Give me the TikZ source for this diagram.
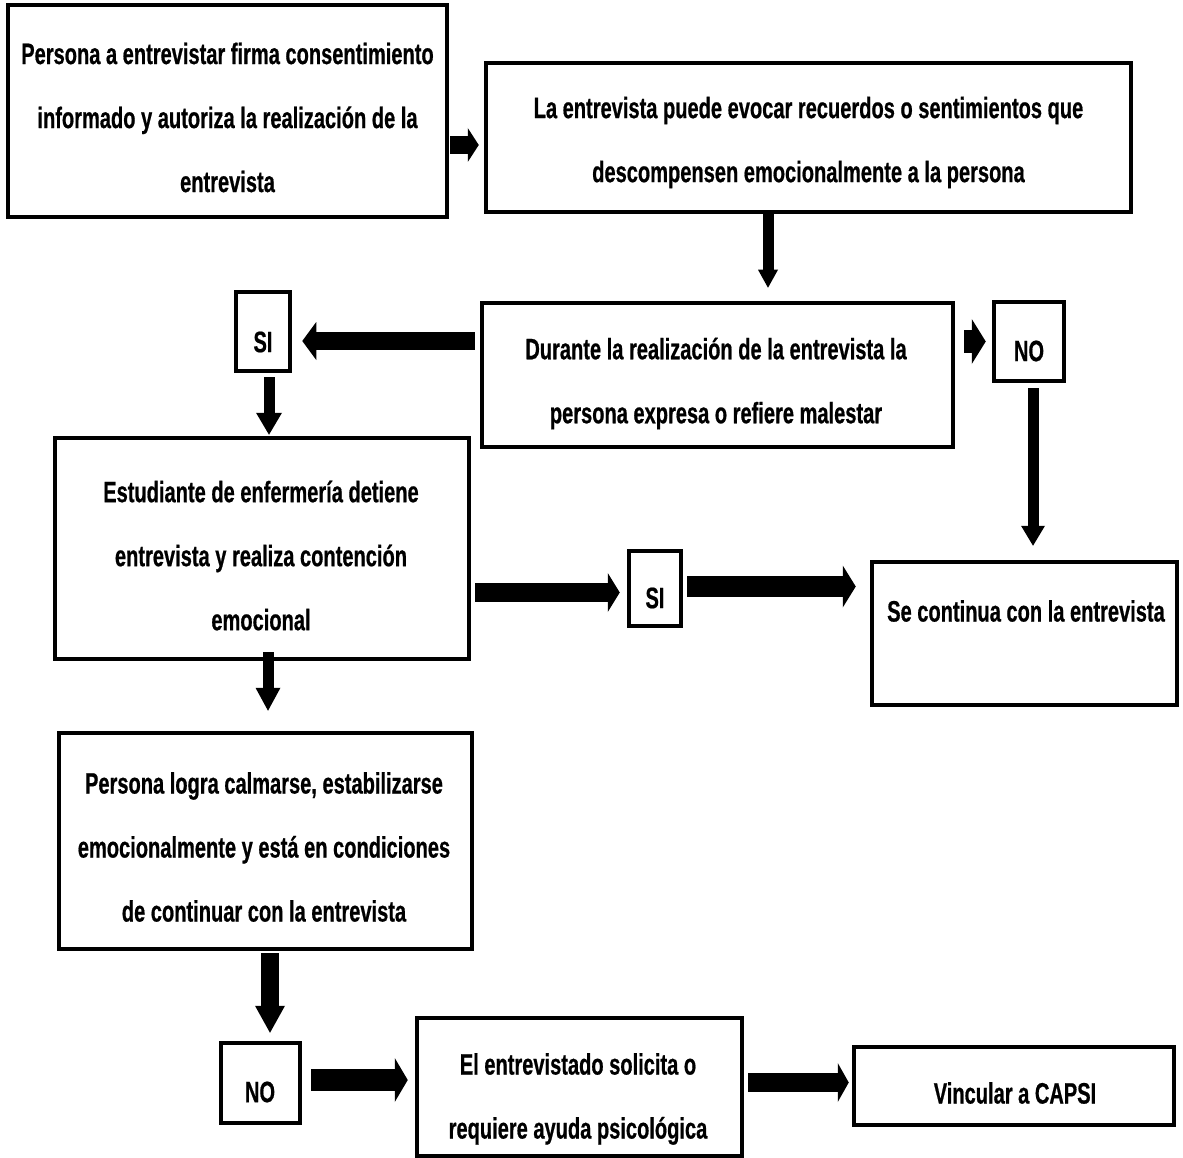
\documentclass[tikz,border=0pt]{standalone}
\usepackage{fontspec}
\newfontfamily\nar{Liberation Sans}[FakeStretch=0.68,FakeBold=0.6]
\usetikzlibrary{arrows.meta,calc}
\begin{document}
\begin{tikzpicture}[x=1pt,y=-1pt,
  box/.style={draw=black, line width=4.5pt, rectangle, inner sep=0pt},
  txt/.style={align=center, font=\nar\bfseries\fontsize{29.5}{64}\selectfont, inner sep=0pt},
  conn/.style n args={3}{line width=#1pt, -{Triangle[width=#2pt,length=#3pt,line width=0pt]}}]
\fill[white] (0,0) rectangle (1183,1158);
\useasboundingbox (0,0) rectangle (1183,1158);

% boxes
\node[box, minimum width=439pt, minimum height=212pt] (b1) at (227.5,111) {};
\node[box, minimum width=645pt, minimum height=149pt] (b2) at (808.5,137.5) {};
\node[box, minimum width=471pt, minimum height=144pt] (b3) at (717.5,375) {};
\node[box, minimum width=54pt, minimum height=79pt] (siA) at (263,331.5) {};
\node[box, minimum width=70pt, minimum height=79pt] (noA) at (1029,341.5) {};
\node[box, minimum width=414pt, minimum height=221pt] (b4) at (262,548.5) {};
\node[box, minimum width=52pt, minimum height=75pt] (siB) at (655,588.5) {};
\node[box, minimum width=305pt, minimum height=143pt] (b5) at (1024.5,633.5) {};
\node[box, minimum width=413pt, minimum height=216pt] (b6) at (265.5,841) {};
\node[box, minimum width=79pt, minimum height=80pt] (noB) at (260.5,1083) {};
\node[box, minimum width=325pt, minimum height=138pt] (b7) at (579.5,1087) {};
\node[box, minimum width=320pt, minimum height=78pt] (b8) at (1014,1086) {};

% texts
\node[txt] (t1) at (227.5,117.5) {Persona a entrevistar firma consentimiento\\informado y autoriza la realización de la\\entrevista};
\node[txt] (t2) at (808.5,142.5) {La entrevista puede evocar recuerdos o sentimientos que\\descompensen emocionalmente a la persona};
\node[txt] (t3) at (716,383.5) {Durante la realización de la entrevista la\\persona expresa o refiere malestar};
\node[txt] (tsiA) at (263,342) {SI};
\node[txt] (tnoA) at (1029,351) {NO};
\node[txt] (t4) at (261,555.5) {Estudiante de enfermería detiene\\entrevista y realiza contención\\emocional};
\node[txt] (tsiB) at (655,598) {SI};
\node[txt] (t5) at (1026,611) {Se continua con la entrevista};
\node[txt] (t6) at (264,847) {Persona logra calmarse, estabilizarse\\emocionalmente y está en condiciones\\de continuar con la entrevista};
\node[txt] (tnoB) at (260,1092) {NO};
\node[txt] (t7) at (578,1099) {El entrevistado solicita o\\requiere ayuda psicológica};
\node[txt] (t8) at (1015,1093) {Vincular a CAPSI};

% connectors
\draw[conn={18}{34}{11}] ($(b1.east)+(1,34)$) -- ($(b2.west)+(-5,7.5)$);
\draw[conn={11}{20}{18}] ($(b2.south)+(-40.5,-4)$) -- ($(b3.north)+(50.5,-13)$);
\draw[conn={18}{38}{14}] ($(b3.west)+(-5,-34)$) -- ($(siA.east)+(10,9.5)$);
\draw[conn={23}{45}{14}] ($(b3.east)+(9,-33.5)$) -- ($(noA.west)+(-6,0)$);
\draw[conn={11}{24}{20}] ($(noA.south)+(4,5)$) -- ($(b5.north)+(8.5,-14)$);
\draw[conn={11}{26}{22}] ($(siA.south)+(6,4)$) -- ($(b4.north)+(7,-1)$);
\draw[conn={19}{39}{12}] ($(b4.east)+(4,44)$) -- ($(siB.west)+(-7,4)$);
\draw[conn={21}{42}{13}] ($(siB.east)+(4,-2)$) -- ($(b5.west)+(-14,-47)$);
\draw[conn={11}{25}{23}] ($(b4.south)+(6,-9)$) -- ($(b6.north)+(2.5,-20)$);
\draw[conn={18}{30}{27}] ($(b6.south)+(4.5,2)$) -- ($(noB.north)+(9.5,-8)$);
\draw[conn={22}{44}{13}] ($(noB.east)+(9,-3)$) -- ($(b7.west)+(-7,-7)$);
\draw[conn={19}{39}{11}] ($(b7.east)+(4,-4.5)$) -- ($(b8.west)+(-3,-3.5)$);
\end{tikzpicture}
\end{document}
